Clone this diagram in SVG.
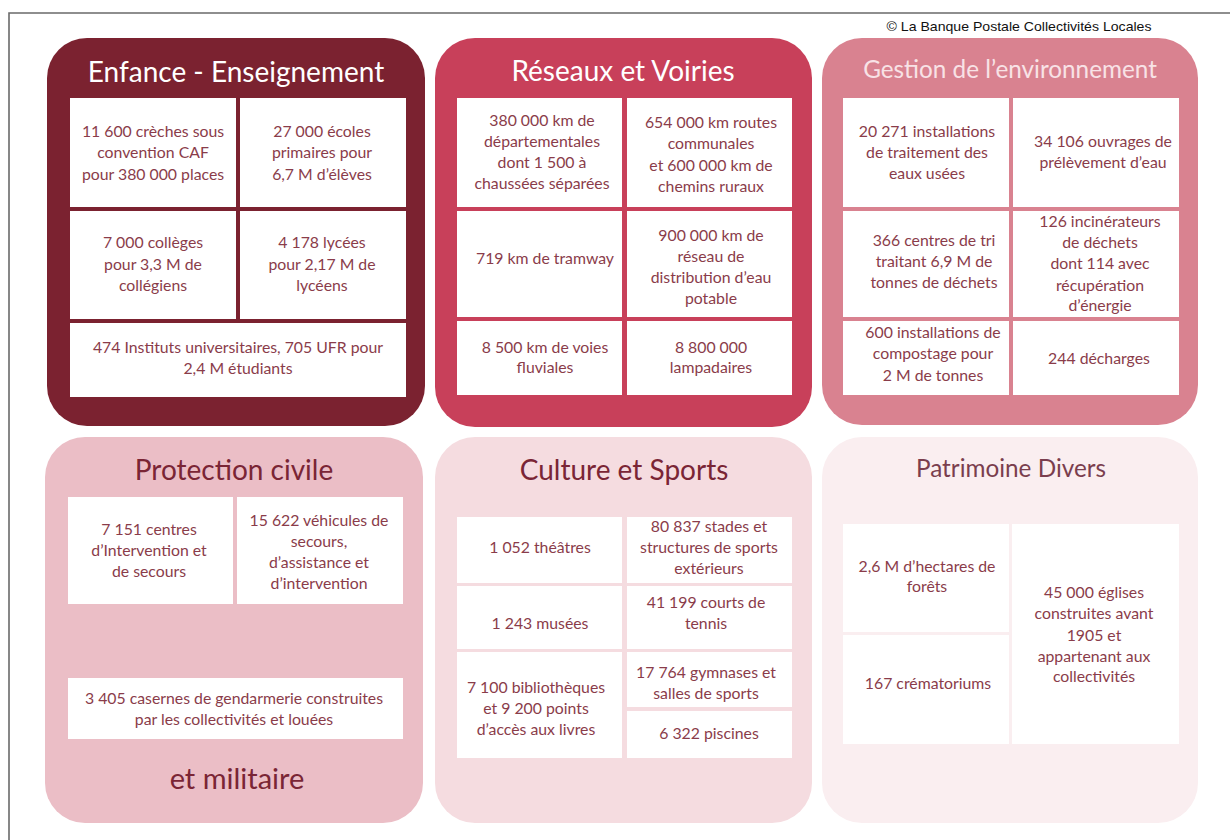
<svg xmlns="http://www.w3.org/2000/svg" width="1230" height="840" viewBox="0 0 1230 840">
<style>
.bg{fill:#ffffff}
.frame{fill:none;stroke:#6a6a6a;stroke-width:1.6}
.cell{fill:#ffffff}
.t{font-family:Lato,"Open Sans","Liberation Sans",sans-serif;font-size:15.8px;fill:#8a3c4a;text-anchor:middle}
.h{font-family:Lato,"Open Sans","Liberation Sans",sans-serif;font-size:28px;text-anchor:middle}
.hs{font-family:Lato,"Open Sans","Liberation Sans",sans-serif;font-size:24.3px;text-anchor:middle}
.copy{font-family:"Liberation Sans",Arial,sans-serif;font-size:13px;fill:#111;text-anchor:middle}
</style>
<rect class="bg" x="0" y="0" width="1230" height="840"/>
<path class="frame" d="M9,840 V13 H1230"/>
<text class="copy" x="1019" y="31" textLength="265" lengthAdjust="spacingAndGlyphs">© La Banque Postale Collectivités Locales</text>

<g id="enfance">
<rect x="47" y="38" width="378" height="388" rx="40" fill="#7b2230"/>
<text class="h" x="236" y="82" fill="#ffffff">Enfance - Enseignement</text>
<rect class="cell" x="70" y="98" width="166" height="109"/>
<rect class="cell" x="240" y="98" width="166" height="109"/>
<rect class="cell" x="70" y="211" width="166" height="108"/>
<rect class="cell" x="240" y="211" width="166" height="108"/>
<rect class="cell" x="70" y="323" width="336" height="74"/>
<text class="t" x="153" y="137">11 600 crèches sous</text>
<text class="t" x="153" y="158">convention CAF</text>
<text class="t" x="153" y="180">pour 380 000 places</text>
<text class="t" x="322" y="137">27 000 écoles</text>
<text class="t" x="322" y="158">primaires pour</text>
<text class="t" x="322" y="180">6,7 M d’élèves</text>
<text class="t" x="153" y="248">7 000 collèges</text>
<text class="t" x="153" y="270">pour 3,3 M de</text>
<text class="t" x="153" y="291">collégiens</text>
<text class="t" x="322" y="248">4 178 lycées</text>
<text class="t" x="322" y="270">pour 2,17 M de</text>
<text class="t" x="322" y="291">lycéens</text>
<text class="t" x="238" y="353">474 Instituts universitaires, 705 UFR pour</text>
<text class="t" x="238" y="374">2,4 M étudiants</text>
</g>

<g id="reseaux">
<rect x="435" y="38" width="377" height="389" rx="40" fill="#c8405a"/>
<text class="h" x="623" y="81" fill="#ffffff">Réseaux et Voiries</text>
<rect class="cell" x="457" y="98" width="165" height="109"/>
<rect class="cell" x="627" y="98" width="165" height="109"/>
<rect class="cell" x="457" y="211" width="165" height="106"/>
<rect class="cell" x="627" y="211" width="165" height="106"/>
<rect class="cell" x="457" y="321" width="165" height="74"/>
<rect class="cell" x="627" y="321" width="165" height="74"/>
<text class="t" x="542" y="126">380 000 km de</text>
<text class="t" x="542" y="147">départementales</text>
<text class="t" x="542" y="168">dont 1 500 à</text>
<text class="t" x="542" y="189">chaussées séparées</text>
<text class="t" x="711" y="128">654 000 km routes</text>
<text class="t" x="711" y="149">communales</text>
<text class="t" x="711" y="171">et 600 000 km de</text>
<text class="t" x="711" y="192">chemins ruraux</text>
<text class="t" x="545" y="264">719 km de tramway</text>
<text class="t" x="711" y="241">900 000 km de</text>
<text class="t" x="711" y="262">réseau de</text>
<text class="t" x="711" y="283">distribution d’eau</text>
<text class="t" x="711" y="304">potable</text>
<text class="t" x="545" y="353">8 500 km de voies</text>
<text class="t" x="545" y="373">fluviales</text>
<text class="t" x="711" y="353">8 800 000</text>
<text class="t" x="711" y="373">lampadaires</text>
</g>

<g id="environnement">
<rect x="822" y="38" width="376" height="387" rx="40" fill="#d98290"/>
<text class="hs" x="1010" y="78" fill="#f8e2e6">Gestion de l’environnement</text>
<rect class="cell" x="843" y="98" width="166" height="109"/>
<rect class="cell" x="1013" y="98" width="166" height="109"/>
<rect class="cell" x="843" y="211" width="166" height="106"/>
<rect class="cell" x="1013" y="211" width="166" height="106"/>
<rect class="cell" x="843" y="321" width="166" height="74"/>
<rect class="cell" x="1013" y="321" width="166" height="74"/>
<text class="t" x="927" y="137">20 271 installations</text>
<text class="t" x="927" y="158">de traitement des</text>
<text class="t" x="927" y="179">eaux usées</text>
<text class="t" x="1103" y="147">34 106 ouvrages de</text>
<text class="t" x="1103" y="168">prélèvement d’eau</text>
<text class="t" x="934" y="246">366 centres de tri</text>
<text class="t" x="934" y="267">traitant 6,9 M de</text>
<text class="t" x="934" y="288">tonnes de déchets</text>
<text class="t" x="1100" y="227">126 incinérateurs</text>
<text class="t" x="1100" y="248">de déchets</text>
<text class="t" x="1100" y="269">dont 114 avec</text>
<text class="t" x="1100" y="291">récupération</text>
<text class="t" x="1100" y="311">d’énergie</text>
<text class="t" x="933" y="338">600 installations de</text>
<text class="t" x="933" y="359">compostage pour</text>
<text class="t" x="933" y="381">2 M de tonnes</text>
<text class="t" x="1099" y="364">244 décharges</text>
</g>

<g id="protection">
<rect x="45" y="437" width="378" height="386" rx="40" fill="#ebbec6"/>
<text class="h" x="234" y="480" fill="#7a2535">Protection civile</text>
<rect class="cell" x="68" y="497" width="165" height="107"/>
<rect class="cell" x="237" y="497" width="166" height="107"/>
<rect class="cell" x="68" y="678" width="335" height="61"/>
<text class="t" x="149" y="535">7 151 centres</text>
<text class="t" x="149" y="556">d’Intervention et</text>
<text class="t" x="149" y="577">de secours</text>
<text class="t" x="319" y="526">15 622 véhicules de</text>
<text class="t" x="319" y="547">secours,</text>
<text class="t" x="319" y="568">d’assistance et</text>
<text class="t" x="319" y="589">d’intervention</text>
<text class="t" x="234" y="704">3 405 casernes de gendarmerie construites</text>
<text class="t" x="234" y="725">par les collectivités et louées</text>
<text class="h" x="237" y="789" fill="#7a2535" style="font-size:29px">et militaire</text>
</g>

<g id="culture">
<rect x="435" y="437" width="377" height="386" rx="40" fill="#f5dce0"/>
<text class="h" x="624" y="480" fill="#7a2535">Culture et Sports</text>
<rect class="cell" x="457" y="517" width="165" height="66"/>
<rect class="cell" x="627" y="517" width="165" height="66"/>
<rect class="cell" x="457" y="586" width="165" height="63"/>
<rect class="cell" x="627" y="586" width="165" height="63"/>
<rect class="cell" x="457" y="652" width="165" height="106"/>
<rect class="cell" x="627" y="652" width="165" height="55"/>
<rect class="cell" x="627" y="711" width="165" height="47"/>
<text class="t" x="540" y="553">1 052 théâtres</text>
<text class="t" x="709" y="532">80 837 stades et</text>
<text class="t" x="709" y="553">structures de sports</text>
<text class="t" x="709" y="574">extérieurs</text>
<text class="t" x="540" y="629">1 243 musées</text>
<text class="t" x="706" y="608">41 199 courts de</text>
<text class="t" x="706" y="629">tennis</text>
<text class="t" x="536" y="693">7 100 bibliothèques</text>
<text class="t" x="536" y="714">et 9 200 points</text>
<text class="t" x="536" y="735">d’accès aux livres</text>
<text class="t" x="706" y="678">17 764 gymnases et</text>
<text class="t" x="706" y="699">salles de sports</text>
<text class="t" x="709" y="739">6 322 piscines</text>
</g>

<g id="patrimoine">
<rect x="822" y="437" width="376" height="386" rx="40" fill="#faeef0"/>
<text class="hs" x="1011" y="477" fill="#7a3e4e">Patrimoine Divers</text>
<rect class="cell" x="843" y="524" width="166" height="108"/>
<rect class="cell" x="843" y="635" width="166" height="109"/>
<rect class="cell" x="1012" y="524" width="167" height="220"/>
<text class="t" x="927" y="572">2,6 M d’hectares de</text>
<text class="t" x="927" y="592">forêts</text>
<text class="t" x="928" y="689">167 crématoriums</text>
<text class="t" x="1094" y="598">45 000 églises</text>
<text class="t" x="1094" y="619">construites avant</text>
<text class="t" x="1094" y="641">1905 et</text>
<text class="t" x="1094" y="662">appartenant aux</text>
<text class="t" x="1094" y="682">collectivités</text>
</g>
</svg>
